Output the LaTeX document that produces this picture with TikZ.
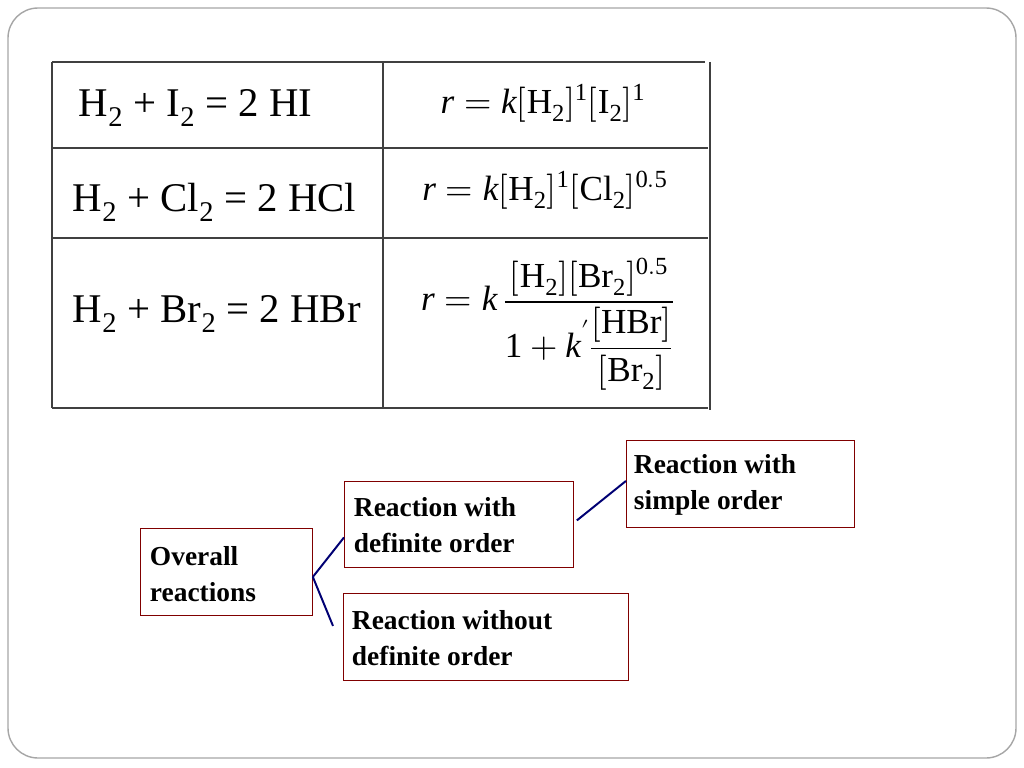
\documentclass[tikz,border=0pt]{standalone}
\usepackage{fontspec}
\usepackage{amsmath}
\usepackage{unicode-math}
\setmainfont{Liberation Serif}
\setmathfont{Latin Modern Math}
\setmathfont[range={up/{Latin,latin,num}}]{Liberation Serif}
\usetikzlibrary{positioning, calc}

\newcommand{\vr}{\text{\itshape r}}
\newcommand{\vk}{\text{\itshape k}}

\tikzset{
    frame/.style={draw=gray!70, line width=1pt, rounded corners=0.75cm},
    grid/.style={draw=black!75, line width=0.8pt},
    eqn/.style={font=\fontsize{29}{32}\selectfont},
    rate/.style={font=\fontsize{25}{28}\selectfont},
    branch/.style={draw=red!50!black, line width=0.6pt, inner sep=0pt, anchor=north west},
    label/.style={anchor=west, font=\bfseries\fontsize{19.5}{26}\selectfont, align=left},
    link/.style={draw=blue!45!black, line width=1.4pt}
}

\begin{document}
\begin{tikzpicture}[x=0.025cm, y=-0.025cm]
        \useasboundingbox (0,0) rectangle (1024,768);
        \draw [frame] (8,8) rectangle (1016,758);
        % table
        \draw [grid] (52,62) -- (705,62);
        \draw [grid] (52,148) -- (708,148);
        \draw [grid] (52,238) -- (708,238);
        \draw [grid] (52,408) -- (708,408);
        \draw [grid] (52,62) -- (52,408);
        \draw [grid] (383,62) -- (383,408);
        \draw [grid] (710,62) -- (710,410);
        \node [eqn, anchor=west] (hi) at (74,108) {H$_2$ + I$_2$ = 2 HI};
        \node [eqn, anchor=west] (hcl) at (68,202) {H$_2$ + Cl$_2$ = 2 HCl};
        \node [eqn, anchor=west] (hbr) at (68,314) {H$_2$ + Br$_2$ = 2 HBr};
        \node [rate] (rhi) at (543,103) {$\vr = \vk[\mathrm{H}_2]^1[\mathrm{I}_2]^1$};
        \node [rate] (rhcl) at (545,190) {$\vr = \vk[\mathrm{H}_2]^1[\mathrm{Cl}_2]^{0.5}$};
        \node [rate] (rhbr) at (548,324) {$\vr = \vk\,\dfrac{[\mathrm{H}_2][\mathrm{Br}_2]^{0.5}}{1+\vk'\dfrac{[\mathrm{HBr}]}{[\mathrm{Br}_2]}}$};
        % tree
        \node [branch, minimum width=172*0.025cm, minimum height=87*0.025cm] (ovr) at (140,528) {};
        \node [label] (ovrtext) at (145,574) {Overall\\reactions};
        \node [branch, minimum width=229*0.025cm, minimum height=86*0.025cm] (def) at (344,481) {};
        \node [label] (deftext) at (349,525) {Reaction with\\definite order};
        \node [branch, minimum width=228*0.025cm, minimum height=87*0.025cm] (simp) at (626,440) {};
        \node [label] (simptext) at (629,485) {Reaction with\\simple order};
        \node [branch, minimum width=285*0.025cm, minimum height=87*0.025cm] (wo) at (343,593) {};
        \node [label] (wotext) at (347,638) {Reaction without\\definite order};
        \coordinate (fork) at ($(ovr.east)+(0,5)$);
        \draw [link] (fork) -- ($(def.west)+(0,13)$);
        \draw [link] (fork) -- ($(wo.west)+(-10,-11)$);
        \draw [link] ($(def.east)+(3,-4)$) -- ($(simp.west)+(0,-3)$);
\end{tikzpicture}
\end{document}
